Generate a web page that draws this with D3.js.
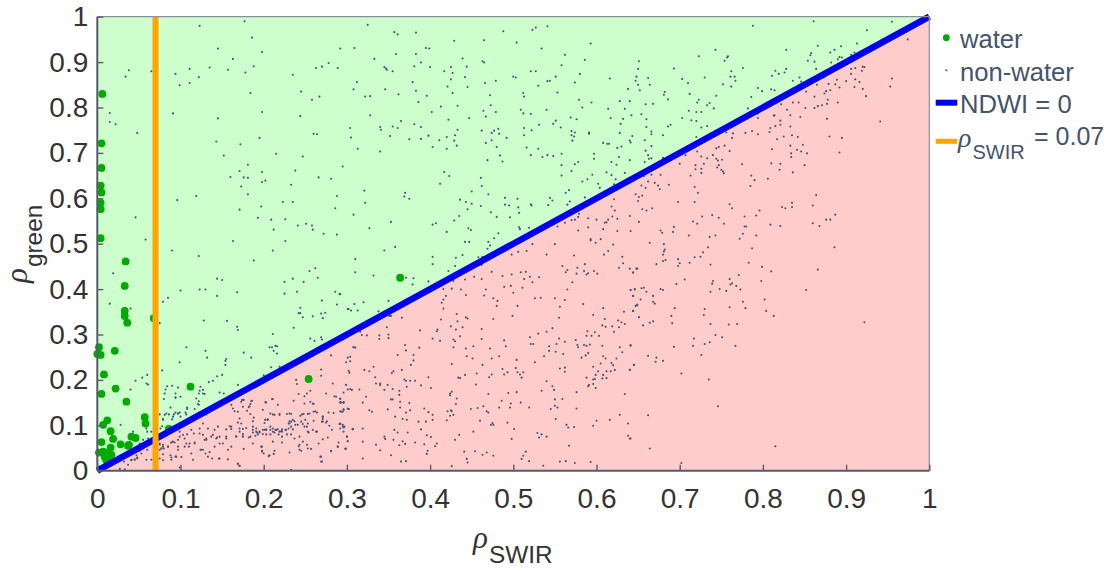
<!DOCTYPE html>
<html>
<head>
<meta charset="utf-8">
<script src="https://cdn.jsdelivr.net/npm/d3@7"></script>
<style>
body { margin: 0; background: #fff; }
text { font-family: "Liberation Sans", sans-serif; }
.tick text { fill: #333; font-size: 28px; }
.legend text { fill: #44546a; font-size: 25.6px; }
.rho { font-family: "Liberation Serif", serif; font-style: italic; }
</style>
</head>
<body>
<div id="chart"></div>
<script>
var tickValues = [0, 0.1, 0.2, 0.3, 0.4, 0.5, 0.6, 0.7, 0.8, 0.9, 1];
var ndwiLine = [[0, 0], [1, 1]];
var swirThreshold = 0.07;
var legendLabels = ["water", "non-water", "NDWI = 0", "= 0.07"];

var waterPoints = [[.006,.830],[.005,.721],[.005,.667],[.004,.628],[.005,.613],[.004,.590],[.004,.576],[.004,.512],[.034,.461],[.033,.407],[.033,.352],[.033,.341],[.036,.326],[.068,.336],[.002,.272],[.000,.257],[.004,.255],[.021,.264],[.008,.212],[.022,.181],[.005,.169],[.112,.185],[.254,.202],[.364,.425],[.035,.152],[.057,.118],[.058,.104],[.012,.111],[.007,.101],[.016,.087],[.019,.070],[.005,.063],[.028,.058],[.038,.057],[.037,.055],[.041,.075],[.046,.072],[.016,.051],[.002,.040],[.007,.042],[.012,.040],[.017,.035],[.009,.031],[.014,.027],[.011,.023],[.086,.092]];

var nonWaterTopLeft = [[.123,.980],[.177,.990],[.186,.954],[.325,.982],[.357,.966],[.361,.961],[.383,.965],[.429,.947],[.465,.948],[.488,.968],[.145,.930],[.198,.922],[.163,.907],[.292,.930],[.309,.931],[.359,.918],[.383,.918],[.395,.931],[.399,.930],[.439,.908],[.333,.907],[.463,.902],[.465,.899],[.038,.882],[.034,.868],[.065,.880],[.094,.874],[.111,.885],[.099,.849],[.111,.854],[.122,.867],[.135,.888],[.157,.883],[.178,.877],[.188,.891],[.235,.872],[.263,.887],[.270,.890],[.278,.898],[.289,.887],[.345,.889],[.347,.886],[.348,.883],[.355,.880],[.381,.891],[.389,.899],[.400,.889],[.417,.880],[.425,.889],[.427,.876],[.425,.862],[.442,.867],[.444,.890],[.445,.845],[.466,.854],[.479,.859],[.312,.856],[.379,.856],[.308,.840],[.346,.840],[.383,.837],[.421,.846],[.184,.832],[.245,.835],[.267,.824],[.258,.817],[.322,.824],[.328,.825],[.362,.829],[.396,.826],[.427,.832],[.472,.827],[.386,.812],[.413,.802],[.433,.804],[.473,.805],[.015,.788],[.091,.787],[.198,.790],[.145,.776],[.244,.781],[.328,.783],[.402,.790],[.464,.793],[.479,.790],[.467,.780],[.422,.773],[.447,.777],[.015,.768],[.022,.763],[.048,.744],[.365,.770],[.381,.763],[.389,.757],[.340,.757],[.341,.751],[.355,.758],[.361,.755],[.304,.755],[.433,.751],[.462,.749],[.474,.744],[.477,.749],[.482,.753],[.483,.742],[.474,.728],[.467,.722],[.492,.733],[.260,.742],[.264,.741],[.305,.734],[.195,.733],[.143,.725],[.172,.719],[.352,.737],[.375,.730],[.389,.731],[.398,.738],[.411,.728],[.420,.735],[.430,.739],[.429,.727],[.432,.716],[.403,.713],[.420,.709],[.480,.713],[.313,.709],[.340,.703],[.152,.694],[.215,.698],[.247,.692],[.484,.694],[.469,.684],[.487,.681],[.181,.674],[.295,.670],[.171,.660],[.198,.658],[.238,.661],[.417,.658],[.423,.649],[.160,.647],[.176,.646],[.181,.645],[.198,.636],[.202,.639],[.266,.646],[.281,.643],[.412,.632],[.461,.645],[.462,.627],[.173,.626],[.233,.630],[.181,.609],[.288,.605],[.321,.617],[.370,.612],[.369,.604],[.375,.599],[.096,.596],[.119,.605],[.450,.615],[.470,.609],[.436,.597],[.443,.592],[.450,.588],[.461,.583],[.445,.576],[.490,.601],[.490,.586],[.495,.584],[.223,.592],[.235,.592],[.322,.590],[.197,.582],[.171,.575],[.286,.578],[.473,.569],[.308,.564],[.480,.559],[.435,.561],[.429,.551],[.046,.558],[.193,.557],[.209,.553],[.226,.554],[.353,.548],[.403,.542],[.407,.545],[.241,.540],[.251,.544],[.258,.540],[.259,.531],[.212,.531],[.327,.534],[.446,.534],[.449,.530],[.272,.522],[.288,.520],[.420,.526],[.482,.523],[.477,.512],[.496,.558],[.058,.509]];

var nonWaterTopRight = [[.523,.971],[.527,.976],[.541,.979],[.788,.980],[.861,.990],[.955,.989],[.925,.970],[.974,.950],[.504,.943],[.593,.941],[.534,.930],[.562,.916],[.586,.905],[.558,.893],[.521,.880],[.527,.880],[.500,.868],[.503,.866],[.551,.868],[.544,.859],[.541,.858],[.580,.874],[.574,.855],[.530,.848],[.512,.832],[.513,.824],[.553,.833],[.723,.913],[.743,.927],[.758,.913],[.757,.910],[.754,.903],[.651,.902],[.650,.885],[.693,.886],[.776,.887],[.828,.927],[.866,.936],[.894,.935],[.913,.941],[.886,.927],[.881,.921],[.858,.920],[.857,.915],[.854,.903],[.862,.901],[.882,.899],[.892,.911],[.895,.910],[.890,.906],[.906,.916],[.910,.921],[.895,.898],[.864,.885],[.815,.881],[.819,.874],[.826,.877],[.828,.885],[.811,.870],[.836,.859],[.844,.866],[.846,.857],[.762,.880],[.761,.868],[.766,.868],[.767,.859],[.762,.846],[.752,.851],[.730,.866],[.703,.863],[.710,.854],[.648,.868],[.647,.859],[.662,.865],[.650,.850],[.652,.838],[.664,.850],[.616,.864],[.638,.841],[.712,.830],[.682,.834],[.681,.828],[.794,.843],[.799,.836],[.810,.840],[.814,.838],[.744,.826],[.686,.818],[.786,.823],[.579,.817],[.594,.811],[.628,.814],[.640,.814],[.583,.800],[.614,.797],[.634,.797],[.659,.807],[.668,.808],[.723,.817],[.721,.811],[.736,.810],[.733,.805],[.741,.798],[.509,.795],[.512,.787],[.521,.786],[.540,.795],[.782,.798],[.711,.793],[.720,.790],[.726,.790],[.642,.783],[.654,.785],[.569,.778],[.576,.774],[.617,.777],[.632,.775],[.660,.774],[.703,.777],[.714,.772],[.720,.770],[.551,.771],[.548,.764],[.531,.762],[.629,.764],[.689,.762],[.686,.758],[.733,.759],[.726,.756],[.513,.755],[.522,.750],[.557,.756],[.660,.757],[.570,.748],[.574,.745],[.570,.739],[.573,.736],[.571,.727],[.513,.739],[.591,.745],[.591,.742],[.628,.744],[.666,.747],[.666,.741],[.643,.737],[.680,.739],[.640,.727],[.641,.723],[.658,.728],[.720,.735],[.613,.720],[.608,.722],[.615,.720],[.516,.712],[.530,.709],[.630,.714],[.625,.711],[.666,.715],[.659,.705],[.521,.695],[.535,.691],[.541,.695],[.548,.693],[.558,.698],[.597,.698],[.597,.687],[.627,.691],[.662,.695],[.666,.688],[.663,.687],[.640,.684],[.680,.689],[.578,.680],[.574,.675],[.558,.673],[.618,.680],[.624,.674],[.658,.680],[.570,.660],[.558,.650],[.595,.652],[.612,.657],[.618,.651],[.634,.656],[.589,.642],[.583,.637],[.623,.642],[.602,.632],[.604,.623],[.621,.631],[.563,.612],[.567,.618],[.586,.602],[.505,.599],[.544,.601],[.547,.595],[.521,.587],[.522,.584],[.542,.585],[.568,.593],[.565,.586],[.506,.580],[.507,.568],[.579,.566],[.578,.559],[.574,.553],[.570,.552],[.562,.546],[.507,.536],[.508,.532],[.519,.535],[.553,.538],
[.920,.890],[.922,.889],[.911,.887],[.906,.885],[.906,.874],[.919,.881],[.911,.862],[.916,.856],[.900,.858],[.889,.861],[.887,.851],[.892,.844],[.879,.852],[.873,.866],[.865,.850],[.881,.838],[.876,.836],[.874,.831],[.852,.835],[.862,.824],[.910,.845],[.920,.841],[.924,.825],[.955,.864],[.953,.846],[.878,.817],[.877,.808],[.871,.805],[.866,.803],[.862,.799],[.890,.811],[.836,.811],[.843,.811],[.851,.799],[.822,.807],[.829,.795],[.833,.783],[.845,.779],[.814,.783],[.813,.782],[.794,.777],[.794,.787],[.877,.775],[.821,.771],[.821,.762],[.815,.759],[.809,.755],[.808,.746],[.833,.758],[.941,.769],[.787,.748],[.779,.744],[.794,.741],[.764,.743],[.756,.745],[.763,.733],[.880,.736],[.895,.733],[.835,.739],[.842,.735],[.825,.736],[.817,.730],[.833,.716],[.848,.718],[.811,.708],[.841,.707],[.846,.703],[.853,.699],[.834,.699],[.834,.691],[.892,.701],[.754,.716],[.747,.713],[.744,.710],[.760,.704],[.721,.703],[.726,.692],[.740,.695],[.733,.688],[.707,.695],[.744,.687],[.746,.683],[.751,.685],[.700,.676],[.719,.673],[.729,.676],[.747,.673],[.775,.675],[.810,.677],[.821,.676],[.850,.673],[.719,.664],[.726,.665],[.745,.668],[.750,.663],[.752,.659],[.753,.655],[.726,.656],[.820,.663],[.836,.657],[.713,.650],[.677,.652],[.666,.652],[.786,.650],[.790,.640],[.806,.643],[.657,.649],[.662,.637],[.654,.628],[.670,.634],[.674,.628],[.676,.620],[.687,.630],[.659,.623],[.718,.625],[.785,.627],[.722,.612],[.647,.609],[.651,.603],[.655,.606],[.650,.594],[.621,.598],[.698,.592],[.718,.592],[.864,.607],[.860,.584],[.835,.590],[.835,.581],[.823,.581],[.827,.578],[.760,.587],[.763,.578],[.618,.582],[.622,.573],[.655,.576],[.660,.573],[.667,.578],[.796,.573],[.792,.562],[.887,.564],[.881,.553],[.876,.553],[.860,.545],[.868,.539],[.778,.560],[.739,.563],[.747,.557],[.727,.560],[.619,.560],[.625,.555],[.640,.561],[.590,.556],[.600,.553],[.614,.553],[.612,.547],[.610,.546],[.716,.549],[.721,.544],[.753,.544],[.809,.542],[.821,.539],[.778,.538],[.780,.538],[.651,.548],[.590,.536],[.608,.532],[.578,.529],[.625,.528],[.641,.528],[.677,.529],[.679,.524],[.693,.537],[.692,.526],[.776,.522],[.743,.518],[.736,.515],[.711,.518],[.792,.518],[.772,.511],[.593,.510],[.605,.510]];

var nonWaterBottomMid = [[.442,.504],[.447,.504],[.470,.504],[.472,.496],[.358,.493],[.345,.485],[.469,.489],[.310,.466],[.403,.471],[.403,.455],[.431,.469],[.439,.475],[.430,.451],[.458,.470],[.463,.471],[.462,.453],[.310,.437],[.332,.430],[.371,.425],[.380,.424],[.379,.410],[.422,.440],[.398,.417],[.428,.418],[.292,.389],[.320,.371],[.309,.367],[.302,.356],[.305,.353],[.313,.353],[.350,.374],[.338,.351],[.351,.341],[.353,.341],
[.523,.499],[.550,.499],[.593,.507],[.599,.502],[.620,.498],[.498,.476],[.506,.482],[.516,.484],[.540,.476],[.614,.484],[.609,.476],[.573,.474],[.631,.471],[.632,.457],[.627,.447],[.640,.445],[.649,.445],[.644,.437],[.559,.451],[.586,.455],[.577,.447],[.565,.442],[.563,.437],[.585,.440],[.597,.440],[.590,.435],[.588,.432],[.601,.434],[.576,.434],[.474,.438],[.487,.429],[.498,.432],[.509,.437],[.515,.438],[.513,.422],[.520,.427],[.531,.426],[.523,.415],[.453,.427],[.462,.422],[.442,.421],[.571,.415],[.489,.405],[.497,.407],[.511,.403],[.500,.392],[.565,.399],[.467,.399],[.465,.386],[.416,.400],[.426,.401],[.437,.399],[.443,.387],[.419,.385],[.416,.377],[.414,.370],[.476,.380],[.481,.374],[.480,.363],[.526,.380],[.533,.381],[.550,.380],[.562,.376],[.556,.361],[.505,.363],[.584,.367],[.608,.358],[.641,.398],[.646,.399],[.644,.385],[.649,.364],[.644,.352],[.633,.350],[.416,.357],[.432,.345],[.499,.341],[.555,.337],[.596,.343],[.651,.338],[.476,.334],[.443,.338],[.445,.335],[.413,.333],[.433,.329],[.366,.337],[.610,.334],[.626,.331],[.630,.327],[.634,.323],[.607,.320],[.611,.317],[.619,.318],[.627,.316],[.621,.306],[.589,.307],[.598,.305],[.603,.297],[.594,.297],[.588,.297],[.439,.316],[.425,.318],[.431,.311],[.388,.309],[.409,.311],[.408,.307],[.462,.312],[.348,.316],[.316,.306],[.318,.299],[.324,.298],[.339,.298],[.350,.300],[.350,.292],[.339,.290],[.403,.291],[.412,.286],[.428,.289],[.430,.285],[.436,.296],[.462,.290],[.489,.287],[.491,.274],[.530,.302],[.540,.306],[.547,.314],[.520,.294],[.521,.279],[.524,.279],[.555,.291],[.562,.284],[.552,.279],[.543,.274],[.575,.288],[.577,.277],[.578,.272],[.585,.277],[.588,.275],[.592,.278],[.607,.275],[.641,.276],[.628,.272],[.631,.261],[.428,.272],[.370,.277],[.387,.271],[.371,.265],[.443,.269],[.452,.274],[.472,.269],[.308,.272],[.310,.271],[.361,.255],[.380,.255],[.380,.243],[.377,.233],[.301,.249],[.304,.251],[.444,.252],[.451,.247],[.474,.247],[.483,.252],[.537,.252],[.543,.264],[.551,.262],[.560,.257],[.590,.259],[.587,.254],[.582,.249],[.608,.252],[.611,.247],[.624,.247],[.504,.244],[.526,.239],[.426,.235],[.463,.233],[.605,.236],[.618,.237],[.620,.232],[.645,.233],[.596,.229],[.556,.225],[.562,.227],[.562,.218],[.640,.222],[.622,.222],[.617,.219],[.612,.219],[.602,.219],[.303,.216],[.321,.222],[.327,.219],[.332,.229],[.366,.222],[.354,.215],[.356,.219],[.487,.224],[.489,.212],[.493,.217],[.503,.226],[.505,.217],[.512,.217],[.508,.212],[.510,.205],[.456,.214],[.474,.212],[.471,.206],[.442,.211],[.434,.205],[.436,.204],[.398,.206],[.334,.206],[.369,.201],[.371,.198],[.376,.198],[.382,.198],[.389,.188],[.599,.211],[.608,.211],[.598,.202],[.596,.201],[.607,.203],[.612,.204],[.588,.205],[.540,.197],[.547,.186],[.596,.191],[.591,.189],[.590,.186],[.599,.182],[.455,.190],[.335,.192],[.340,.192],[.340,.189],[.349,.189],[.299,.189],[.301,.179],[.306,.178],[.315,.179],[.345,.178],[.355,.180],[.372,.185],[.401,.182],[.363,.176],[.363,.167],[.426,.174],[.424,.170],[.424,.166],[.494,.171],[.504,.173],[.470,.169],[.534,.176],[.549,.178],[.576,.173],[.634,.169],[.323,.163],[.353,.157],[.355,.157],[.432,.159],[.364,.152],[.375,.149],[.319,.150],[.292,.159],[.293,.150],[.296,.150],[.431,.147],[.486,.154],[.497,.148],[.509,.150],[.550,.157],[.559,.158],[.550,.143],[.364,.139],[.553,.139],[.545,.136],[.576,.137],[.464,.142],[.457,.138],[.449,.136],[.483,.139],[.496,.139],[.519,.139],[.302,.136],[.296,.135],[.292,.131],[.327,.133],[.330,.130],[.349,.135],[.376,.133],[.371,.128],[.393,.137],[.398,.129],[.403,.123],[.421,.131],[.425,.133],[.426,.131],[.428,.123],[.424,.121],[.468,.131],[.470,.128],[.358,.119],[.367,.114],[.372,.112],[.386,.108],[.395,.108],[.403,.112],[.420,.111],[.460,.110],[.475,.105],[.473,.101],[.476,.101],[.493,.106],[.551,.114],[.600,.110],[.596,.099],[.564,.101],[.566,.095],[.573,.096],[.616,.112],[.628,.123],[.638,.104],[.292,.103],[.295,.098],[.296,.095],[.296,.086],[.307,.092],[.319,.093],[.501,.092],[.357,.090],[.361,.084],[.373,.084],[.389,.091],[.452,.086],[.529,.083],[.534,.080],[.531,.073],[.540,.075],[.638,.077],[.640,.071],[.300,.075],[.301,.065],[.319,.064],[.345,.075],[.346,.070],[.356,.068],[.367,.065],[.370,.059],[.363,.056],[.382,.062],[.393,.058],[.396,.078],[.401,.074],[.408,.060],[.406,.054],[.430,.068],[.435,.079],[.498,.070],[.567,.055],[.298,.048],[.335,.057],[.340,.045],[.397,.044],[.396,.037],[.353,.034],[.441,.042],[.454,.043],[.463,.035],[.468,.040],[.476,.033],[.515,.042],[.512,.033],[.510,.026],[.519,.021],[.319,.027],[.444,.026],[.445,.018],[.365,.020],[.371,.021],[.426,.010],[.536,.011],[.556,.020],[.563,.021],[.574,.017],[.593,.019]];

var nonWaterBottomRight = [[.664,.502],[.681,.499],[.734,.492],[.787,.490],[.886,.492],[.682,.487],[.681,.483],[.680,.476],[.728,.481],[.725,.471],[.718,.470],[.698,.466],[.680,.462],[.683,.464],[.712,.458],[.700,.457],[.672,.455],[.698,.451],[.737,.454],[.783,.458],[.799,.449],[.866,.443],[.810,.439],[.648,.445],[.644,.436],[.771,.431],[.706,.421],[.760,.422],[.740,.418],[.798,.418],[.696,.411],[.739,.412],[.763,.413],[.761,.410],[.768,.407],[.748,.400],[.756,.396],[.773,.399],[.737,.394],[.852,.398],[.654,.402],[.657,.403],[.660,.394],[.646,.400],[.641,.398],[.677,.400],[.680,.398],[.668,.385],[.644,.385],[.653,.377],[.802,.377],[.776,.372],[.668,.372],[.670,.368],[.647,.363],[.649,.366],[.694,.358],[.730,.356],[.760,.360],[.779,.358],[.644,.352],[.804,.352],[.813,.341],[.690,.341],[.729,.343],[.651,.338],[.668,.329],[.664,.326],[.691,.325],[.656,.320],[.737,.323],[.759,.322],[.769,.323],[.922,.327],[.743,.299],[.751,.294],[.717,.291],[.736,.283],[.730,.279],[.716,.275],[.693,.273],[.767,.275],[.641,.276],[.726,.255],[.662,.253],[.672,.249],[.671,.240],[.680,.242],[.645,.233],[.640,.222],[.702,.214],[.735,.201],[.746,.142],[.662,.122],[.641,.071],[.664,.049],[.815,.054],[.702,.017]];

var nonWaterBottomLeft = [[.090,.485],[.122,.473],[.163,.506],[.211,.485],[.226,.506],[.188,.463],[.255,.440],[.262,.446],[.019,.435],[.265,.425],[.144,.423],[.150,.420],[.225,.416],[.235,.423],[.248,.416],[.168,.393],[.144,.385],[.100,.397],[.123,.399],[.130,.399],[.225,.390],[.240,.394],[.286,.394],[.291,.389],[.085,.381],[.079,.372],[.015,.368],[.270,.375],[.288,.366],[.301,.356],[.040,.357],[.244,.359],[.242,.347],[.244,.347],[.247,.338],[.259,.340],[.269,.346],[.274,.348],[.271,.336],[.075,.325],[.128,.331],[.156,.330],[.168,.317],[.169,.310],[.236,.315],[.211,.301],[.256,.291],[.261,.286],[.269,.294],[.270,.289],[.107,.272],[.210,.272],[.214,.275],[.216,.274],[.207,.272],[.212,.264],[.216,.258],[.176,.260],[.130,.264],[.132,.249],[.185,.249],[.155,.246],[.154,.242],[.099,.239],[.154,.233],[.219,.229],[.209,.228],[.078,.221],[.200,.210],[.150,.211],[.144,.208],[.054,.205],[.046,.198],[.060,.211],[.139,.198],[.059,.192],[.061,.190],[.134,.195],[.040,.179],[.090,.187],[.084,.186],[.097,.183],[.082,.179],[.081,.170],[.094,.170],[.080,.158],[.094,.161],[.100,.163],[.124,.185],[.123,.176],[.127,.178],[.122,.170],[.127,.170],[.129,.169],[.147,.172],[.152,.170],[.121,.147],[.119,.159],[.108,.139],[.094,.128],[.097,.126],[.099,.128],[.106,.128],[.091,.119],[.083,.126],[.075,.124],[.079,.112],[.078,.098],[.028,.101],[.043,.086],[.060,.086],[.138,.141],[.131,.124],[.169,.189],
[.239,.200],[.240,.191],[.242,.169],[.252,.170],[.256,.176],[.269,.223],[.281,.254],[.308,.272],[.304,.241],[.299,.239],[.269,.209],[.283,.192],[.302,.220],[.304,.180],[.275,.170],[.296,.172],[.259,.148],[.249,.148],[.287,.163],[.292,.150],[.296,.150],[.301,.137],[.295,.130],[.307,.092],[.174,.156],[.185,.153],[.210,.158],[.203,.150],[.217,.145],[.231,.126],[.183,.142],[.175,.141],[.165,.131],[.169,.106],[.219,.125],[.211,.124],[.199,.134],[.246,.124],[.255,.126],[.264,.128],[.271,.119],[.271,.108],[.275,.106],[.291,.103],[.282,.090],[.263,.086],[.249,.097],[.245,.108],[.238,.101],[.230,.104],[.233,.108],[.227,.090],[.221,.087],[.215,.090],[.211,.086],[.199,.090],[.195,.086],[.191,.086],[.205,.113],[.202,.112],[.203,.090],[.219,.086],[.161,.097],[.167,.075],[.175,.076],[.184,.075],[.145,.097],[.155,.091],[.127,.079],[.131,.068],[.137,.075],[.143,.071],[.151,.060],[.155,.071],[.113,.090],[.117,.060],[.107,.060],[.099,.086],[.103,.079],[.091,.064],[.089,.062],[.097,.053],[.075,.060],[.079,.053],[.085,.053],[.077,.049],[.095,.031],[.089,.029],[.079,.023],[.060,.046],[.055,.049],[.051,.044],[.045,.025],[.041,.023],[.048,.029],[.033,.003],[.124,.046],[.127,.046],[.113,.038],[.133,.031],[.146,.027],[.157,.025],[.169,.016],[.171,.011],[.138,.027],[.197,.053],[.198,.042],[.207,.034],[.213,.044],[.231,.040],[.243,.057],[.243,.046],[.253,.049],[.268,.031],[.269,.020],[.281,.044],[.289,.053],[.233,.002]];

// second, closer reading of the crowded part near the origin
var nonWaterNearOrigin = [[.088,.139],[.094,.161],[.122,.153],[.122,.145],[.117,.136],[.108,.136],[.097,.126],[.092,.124],[.086,.124],[.081,.123],[.090,.113],[.079,.114],[.100,.119],[.107,.124],[.059,.093],[.055,.068],[.051,.060],[.061,.071],[.065,.086],[.076,.093],[.063,.064],[.059,.057],[.049,.053],[.043,.046],[.047,.034],[.048,.027],[.041,.024],[.045,.024],[.032,.020],[.027,.004],[.037,.013],[.059,.024],[.065,.024],[.053,.038],[.075,.057],[.079,.057],[.077,.049],[.080,.049],[.075,.046],[.085,.053],[.089,.062],[.093,.062],[.099,.075],[.097,.068],[.105,.071],[.108,.080],[.116,.082],[.123,.093],[.127,.104],[.133,.093],[.141,.090],[.123,.082],[.131,.071],[.139,.079],[.147,.075],[.144,.073],[.129,.068],[.111,.060],[.117,.062],[.105,.053],[.110,.053],[.097,.046],[.125,.046],[.130,.038],[.135,.041],[.141,.053],[.147,.060],[.155,.075],[.157,.046],[.088,.034],[.079,.036],[.094,.031],[.101,.030],[.075,.027],[.089,.024],[.115,.024],[.099,.007],[.147,.027]];

var nonWaterBand = [[.176,.156],[.173,.152],[.186,.154],[.202,.151],[.211,.158],[.236,.154],[.256,.152],[.260,.147],[.249,.164],[.285,.164],[.292,.158],[.292,.151],[.296,.151],[.161,.145],[.163,.137],[.184,.147],[.182,.140],[.180,.132],[.169,.130],[.184,.125],[.171,.115],[.173,.104],[.188,.117],[.187,.109],[.208,.126],[.213,.123],[.219,.123],[.228,.125],[.233,.125],[.235,.112],[.244,.121],[.248,.125],[.253,.125],[.260,.130],[.262,.131],[.271,.119],[.271,.114],[.278,.128],[.284,.127],[.293,.130],[.296,.134],[.302,.136],[.202,.112],[.205,.112],[.201,.105],[.231,.109],[.231,.104],[.237,.109],[.233,.097],[.250,.112],[.260,.110],[.276,.109],[.270,.108],[.171,.093],[.175,.092],[.179,.094],[.187,.097],[.187,.090],[.191,.093],[.161,.092],[.159,.098],[.201,.090],[.203,.091],[.208,.097],[.208,.090],[.211,.093],[.214,.090],[.217,.091],[.222,.091],[.226,.090],[.230,.093],[.235,.091],[.241,.101],[.247,.103],[.253,.104],[.252,.097],[.253,.086],[.254,.084],[.259,.090],[.264,.086],[.279,.099],[.292,.104],[.295,.101],[.297,.097],[.292,.093],[.307,.091],[.167,.076],[.171,.086],[.175,.081],[.175,.075],[.182,.073],[.187,.084],[.190,.077],[.192,.084],[.193,.080],[.195,.084],[.199,.081],[.203,.080],[.208,.080],[.213,.084],[.218,.080],[.222,.086],[.228,.080],[.233,.080],[.222,.075],[.237,.071],[.243,.075],[.300,.075],[.277,.073],[.271,.069],[.266,.060],[.211,.064],[.222,.062],[.187,.060],[.161,.053],[.176,.048],[.198,.053],[.198,.044],[.200,.038],[.206,.032],[.212,.037],[.242,.054],[.247,.064],[.252,.057],[.257,.048],[.245,.044],[.281,.043],[.290,.062],[.289,.053],[.299,.049],[.301,.065],[.269,.031],[.270,.020],[.169,.015],[.171,.011]];

var nonWaterPoints = nonWaterTopLeft.concat(nonWaterTopRight, nonWaterBottomMid, nonWaterBottomRight, nonWaterBottomLeft, nonWaterNearOrigin, nonWaterBand);

var margin = { top: 16.7, right: 183.7, bottom: 101.3, left: 97.3 },
    width = 1113 - margin.left - margin.right,
    height = 572 - margin.top - margin.bottom;

var root = d3.select("#chart").append("svg")
    .attr("width", 1113)
    .attr("height", 572)
    .style("display", "block");

var svg = root.append("g")
    .attr("transform", "translate(" + margin.left + "," + margin.top + ")");

var xScale = d3.scaleLinear().domain([0, 1]).range([0, width]);
var yScale = d3.scaleLinear().domain([0, 1]).range([height, 0]);

// the two classes either side of the NDWI = 0 line
var area = d3.line().x(function (d) { return xScale(d[0]); }).y(function (d) { return yScale(d[1]); });
svg.append("path").attr("d", area([[0, 0], [1, 1], [0, 1]]) + "Z").attr("fill", "#ccffcc");
svg.append("path").attr("d", area([[0, 0], [1, 0], [1, 1]]) + "Z").attr("fill", "#ffcccc");

svg.selectAll(".water")
    .data(waterPoints)
    .enter().append("circle")
    .attr("class", "water")
    .attr("cx", function (d) { return xScale(d[0]); })
    .attr("cy", function (d) { return yScale(d[1]); })
    .attr("r", 3.9)
    .attr("fill", "#00aa00");

svg.selectAll(".dot")
    .data(nonWaterPoints)
    .enter().append("circle")
    .attr("class", "dot")
    .attr("cx", function (d) { return xScale(d[0]); })
    .attr("cy", function (d) { return yScale(d[1]); })
    .attr("r", 1.05)
    .attr("fill", "#46546f");

svg.append("path")
    .attr("d", area(ndwiLine))
    .attr("fill", "none")
    .attr("stroke", "#0000ee")
    .attr("stroke-width", 6.5);

svg.append("line")
    .attr("x1", xScale(swirThreshold))
    .attr("x2", xScale(swirThreshold))
    .attr("y1", yScale(0))
    .attr("y2", yScale(1))
    .attr("stroke", "#ffa500")
    .attr("stroke-width", 6);

var fmt = function (d) { return d3.format("~g")(d); };

// top and right edges are thinner and lighter
svg.append("path")
    .attr("d", "M0,0H" + width + "V" + height)
    .attr("fill", "none")
    .attr("stroke", "#8a8f9a")
    .attr("stroke-width", 1.2);

var xAxis = svg.append("g")
    .attr("transform", "translate(0," + height + ")")
    .call(d3.axisBottom(xScale).tickValues(tickValues).tickFormat(fmt).tickSize(-6).tickPadding(17.4));

var yAxis = svg.append("g")
    .call(d3.axisLeft(yScale).tickValues(tickValues).tickFormat(fmt).tickSize(-6).tickPadding(9));

[xAxis, yAxis].forEach(function (a) {
    a.select(".domain").attr("stroke", "#555d6b").attr("stroke-width", 2).attr("d",
        a === xAxis ? "M0,0H" + width : "M0,0V" + height);
    a.selectAll(".tick line").attr("stroke", "#555d6b").attr("stroke-width", 1.4);
    a.attr("font-family", null).attr("font-size", null);
});

// axis titles
function rhoLabel(parent, sub) {
    var t = parent.append("text").attr("fill", "#333").attr("font-size", 31);
    t.append("tspan").attr("class", "rho").text("ρ");
    t.append("tspan").attr("dy", 15).attr("dx", 1).attr("font-size", 24.4).text(sub);
}

rhoLabel(root.append("g").attr("transform", "translate(473,547.5)"), "SWIR");
rhoLabel(root.append("g").attr("transform", "translate(27,283) rotate(-90)"), "green");

// legend, drawn by hand on the right
var legend = root.append("g").attr("class", "legend");
legend.append("circle").attr("cx", 946.3).attr("cy", 37.7).attr("r", 3.4).attr("fill", "#00aa00");
legend.append("circle").attr("cx", 946.3).attr("cy", 70.3).attr("r", 1).attr("fill", "#46546f");
legend.append("line").attr("x1", 935.7).attr("x2", 957.3).attr("y1", 102.7).attr("y2", 102.7).attr("stroke", "#0000ee").attr("stroke-width", 6);
legend.append("line").attr("x1", 935.7).attr("x2", 957.3).attr("y1", 141.3).attr("y2", 141.3).attr("stroke", "#ffa500").attr("stroke-width", 5);
legend.append("text").attr("x", 960).attr("y", 48).text(legendLabels[0]);
legend.append("text").attr("x", 960).attr("y", 80.7).text(legendLabels[1]);
legend.append("text").attr("x", 960).attr("y", 113.3).text(legendLabels[2]);
legend.append("text").attr("x", 1034).attr("y", 145).style("font-size", "25px").text(legendLabels[3]);
var rho = legend.append("text").attr("x", 958).attr("y", 147);
rho.append("tspan").attr("class", "rho").style("font-size", "28px").text("ρ");
rho.append("tspan").attr("dy", 12).attr("dx", 1).style("font-size", "20px").text("SWIR");
</script>
</body>
</html>
